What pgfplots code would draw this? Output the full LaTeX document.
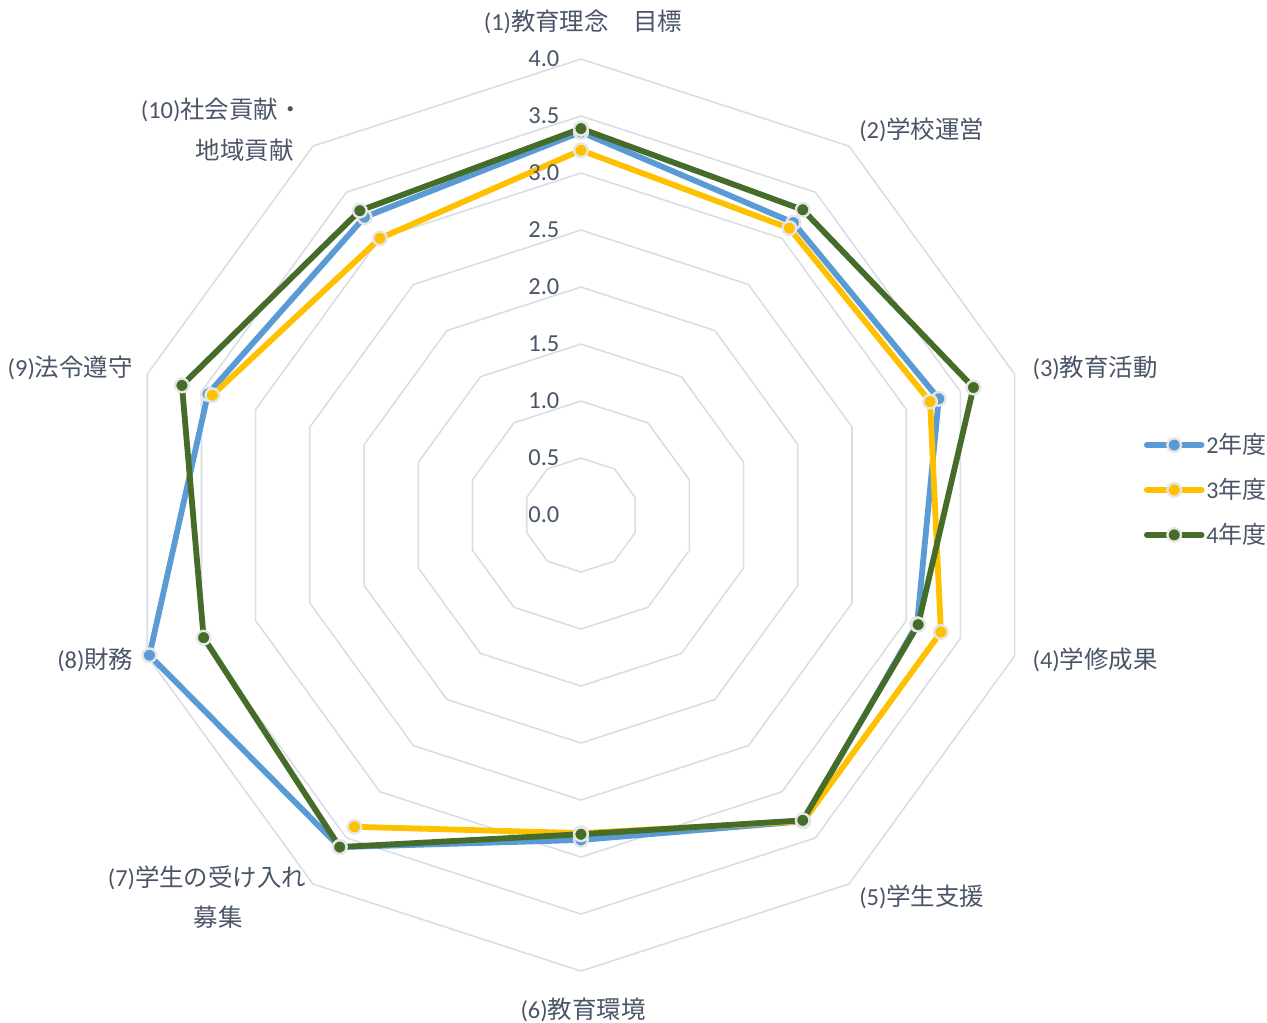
\documentclass[border=0pt]{standalone}
\usepackage{pgfplots}
\pgfplotsset{compat=1.18}
\usepackage{fontspec}
\setmainfont{Carlito}
\newfontfamily\cjk{Noto Sans CJK JP}
\definecolor{cblue}{HTML}{5B9BD5}
\definecolor{cyellow}{HTML}{FFC000}
\definecolor{cgreen}{HTML}{466C2A}
\definecolor{gridc}{HTML}{D9DEE6}
\definecolor{txt}{HTML}{4A5568}
\definecolor{mkedge}{HTML}{E6E6E6}
\begin{document}
\begin{tikzpicture}
\begin{axis}[
  x=2cm, y=2cm,
  xmin=-5.096, xmax=6.018, ymin=-4.447, ymax=4.518,
  hide axis, clip=false,
  legend style={at={(axis cs:4.935,0.22)}, anchor=west, draw=none, fill=none,
    font=\fontsize{12}{14}\selectfont\color{txt}, row sep=8.8pt, inner sep=0pt,
    nodes={inner sep=1pt}},
  legend cell align=left,
  legend image code/.code={\draw[mark repeat=2,mark phase=2] plot coordinates {(0cm,0cm)(0.48cm,0cm)(0.96cm,0cm)};},
  every axis plot/.append style={line join=round, line cap=round},
]
% grid decagons
\pgfplotsinvokeforeach{0.5,1,1.5,2,2.5,3,3.5,4}{
  \addplot[gridc, line width=0.8pt, forget plot, data cs=polar, mark=none]
    coordinates {(90,#1)(54,#1)(18,#1)(-18,#1)(-54,#1)(-90,#1)(-126,#1)(-162,#1)(162,#1)(126,#1)(90,#1)};
}
% series
\addplot[cblue, line width=2.9pt, data cs=polar, mark=*, mark size=3.4pt,
  mark options={fill=cblue, draw=mkedge, line width=1.2pt}]
  coordinates {(90,3.36)(54,3.17)(18,3.30)(-18,3.10)(-54,3.32)(-90,2.85)(-126,3.60)(-162,3.98)(162,3.44)(126,3.23)(90,3.36)};
\addlegendentry{2{\cjk 年度}}
\addplot[cyellow, line width=2.9pt, data cs=polar, mark=*, mark size=3.4pt,
  mark options={fill=cyellow, draw=mkedge, line width=1.2pt}]
  coordinates {(162,3.40)(126,3.00)(90,3.20)(54,3.11)(18,3.22)(-18,3.32)(-54,3.32)(-90,2.79)(-126,3.38)};
\addlegendentry{3{\cjk 年度}}
\addplot[cgreen, line width=2.9pt, data cs=polar, mark=*, mark size=3.4pt,
  mark options={fill=cgreen, draw=mkedge, line width=1.2pt}]
  coordinates {(90,3.39)(54,3.31)(18,3.62)(-18,3.11)(-54,3.31)(-90,2.80)(-126,3.60)(-162,3.48)(162,3.68)(126,3.30)(90,3.39)};
\addlegendentry{4{\cjk 年度}}
% tick labels
\begin{scope}[every node/.style={font=\fontsize{12.2}{14}\selectfont, text=txt, inner sep=0pt}]
\node at (axis cs:-0.325,0) {0.0};
\node at (axis cs:-0.325,0.5) {0.5};
\node at (axis cs:-0.325,1) {1.0};
\node at (axis cs:-0.325,1.5) {1.5};
\node at (axis cs:-0.325,2) {2.0};
\node at (axis cs:-0.325,2.5) {2.5};
\node at (axis cs:-0.325,3) {3.0};
\node at (axis cs:-0.325,3.5) {3.5};
\node at (axis cs:-0.325,4) {4.0};
\node at (axis cs:0.018,4.325) {(1){\cjk 教育理念　目標}};
\node at (axis cs:2.99,3.377) {(2){\cjk 学校運営}};
\node at (axis cs:4.51,1.29) {(3){\cjk 教育活動}};
\node at (axis cs:4.51,-1.272) {(4){\cjk 学修成果}};
\node at (axis cs:2.99,-3.35) {(5){\cjk 学生支援}};
\node at (axis cs:0.018,-4.34) {(6){\cjk 教育環境}};
\node at (axis cs:-3.28,-3.18) {(7){\cjk 学生の受け入れ}};
\node at (axis cs:-3.18,-3.53) {{\cjk 募集}};
\node at (axis cs:-4.26,-1.272) {(8){\cjk 財務}};
\node at (axis cs:-4.48,1.29) {(9){\cjk 法令遵守}};
\node at (axis cs:-3.15,3.55) {(10){\cjk 社会貢献・}};
\node at (axis cs:-2.95,3.20) {{\cjk 地域貢献}};
\end{scope}
\end{axis}
\pgfresetboundingbox
\path (current axis.south west) rectangle (current axis.north east);
\end{tikzpicture}
\end{document}
